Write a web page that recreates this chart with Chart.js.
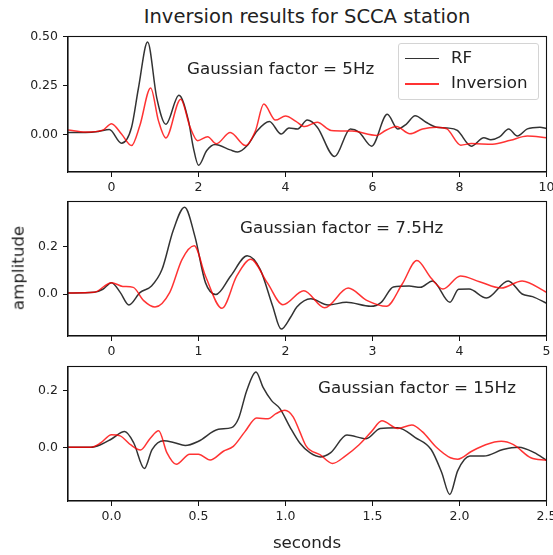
<!DOCTYPE html>
<html>
<head>
<meta charset="utf-8">
<script src="https://cdn.jsdelivr.net/npm/chart.js@4"></script>
<style>
  html, body { margin: 0; padding: 0; background: #fff; overflow: hidden; }
  body { width: 553px; height: 555px; position: relative; font-family: 'DejaVu Sans', sans-serif; color: #222; }
  canvas { position: absolute; left: 0; }
  .txt { position: absolute; white-space: nowrap; line-height: 1; }
</style>
</head>
<body>

<div class="txt" style="left:107px; top:6.8px; width:400px; text-align:center; font-size:19.5px;">Inversion results for SCCA station</div>

<canvas id="c5" width="590" height="173" style="top:24px"></canvas>
<canvas id="c75" width="590" height="172" style="top:189px"></canvas>
<canvas id="c15" width="590" height="172" style="top:354px"></canvas>

<div class="txt" style="left:187px; top:59.9px; font-size:16.7px;">Gaussian factor = 5Hz</div>
<div class="txt" style="left:240px; top:219.2px; font-size:16.7px;">Gaussian factor = 7.5Hz</div>
<div class="txt" style="left:318px; top:378.6px; font-size:16.7px;">Gaussian factor = 15Hz</div>

<!-- legenda do painel de cima -->
<div style="position:absolute; left:398px; top:43px; width:139px; height:55px; border:1px solid #d4d4d4; border-radius:3px; background:rgba(255,255,255,0.8);"></div>
<div style="position:absolute; left:405px; top:57.5px; width:34px; height:1.5px; background:rgba(0,0,0,0.8);"></div>
<div style="position:absolute; left:405px; top:83.2px; width:34px; height:1.5px; background:rgba(255,0,0,0.8);"></div>
<div class="txt" style="left:451px; top:49.2px; font-size:16.7px;">RF</div>
<div class="txt" style="left:451px; top:74.2px; font-size:16.7px;">Inversion</div>

<div class="txt" style="left:17.5px; top:268px; font-size:16.7px; transform:translate(-50%,-50%) rotate(-90deg);">amplitude</div>
<div class="txt" style="left:107px; top:534.4px; width:400px; text-align:center; font-size:16.7px;">seconds</div>

<script>
// ---- dados (tempo em s, amplitude) ----

// Gaussian factor = 5Hz
const rf5 = [[-1,0.01],[-0.6,0.01],[-0.3,0.015],[-0.05,0.025],[0.23,-0.045],[0.46,0.035],[0.62,0.237],[0.83,0.472],[1.04,0.187],[1.25,0.052],[1.55,0.2],[1.77,0.069],[1.88,-0.066],[2.0,-0.158],[2.19,-0.082],[2.38,-0.052],[2.73,-0.079],[2.9,-0.09],[3.12,-0.057],[3.35,0.019],[3.63,0.066],[3.9,0.002],[4.08,0.033],[4.28,0.028],[4.5,0.073],[4.73,0.037],[5.13,-0.113],[5.49,0.028],[5.69,0.012],[5.98,-0.06],[6.34,0.103],[6.58,0.028],[6.78,0.053],[6.98,0.095],[7.23,0.062],[7.47,0.037],[7.71,0.033],[7.95,0.02],[8.27,-0.06],[8.56,-0.017],[8.72,-0.027],[8.92,-0.013],[9.13,0.028],[9.33,-0.008],[9.56,0.028],[9.85,0.037],[10,0.03]];
const inv5 = [[-1,0.023],[-0.6,0.012],[-0.2,0.022],[0,0.055],[0.23,0.002],[0.46,-0.057],[0.65,0.044],[0.9,0.237],[1.08,0.069],[1.25,-0.018],[1.59,0.18],[1.81,0.035],[1.98,-0.032],[2.21,-0.012],[2.41,-0.048],[2.73,0.01],[3.08,-0.057],[3.31,0.019],[3.5,0.155],[3.77,0.073],[4.0,0.094],[4.24,0.067],[4.44,0.04],[4.73,0.062],[5.05,0.02],[5.53,0.017],[6.1,-0.005],[6.3,0.02],[6.55,0.04],[6.86,0.003],[7.15,0.028],[7.47,0.037],[7.71,0.028],[8.03,-0.055],[8.27,-0.047],[8.76,-0.05],[9.17,-0.03],[9.56,-0.008],[10,-0.017]];

// Gaussian factor = 7.5Hz
const rf75 = [[-0.5,0.004],[-0.2,0.007],[-0.1,0.02],[0,0.048],[0.1,0.007],[0.2,-0.046],[0.33,0.007],[0.46,0.034],[0.58,0.103],[0.71,0.269],[0.84,0.366],[0.96,0.241],[1.08,0.048],[1.2,-0.002],[1.37,0.076],[1.56,0.161],[1.71,0.103],[1.85,-0.048],[1.95,-0.148],[2.06,-0.097],[2.13,-0.055],[2.29,-0.02],[2.49,-0.046],[2.7,-0.035],[2.98,-0.052],[3.1,-0.035],[3.24,0.03],[3.42,0.034],[3.55,0.028],[3.69,0.055],[3.89,-0.035],[3.99,0.02],[4.11,0.021],[4.31,-0.017],[4.56,0.055],[4.72,0.0],[4.84,-0.011],[5,-0.039]];
const inv75 = [[-0.5,0.004],[-0.2,0.007],[0,0.048],[0.13,0.032],[0.25,0.028],[0.37,-0.028],[0.5,-0.055],[0.67,0.007],[0.81,0.145],[0.95,0.203],[1.08,0.076],[1.27,-0.06],[1.44,0.076],[1.6,0.147],[1.79,0.048],[1.97,-0.045],[2.21,0.014],[2.45,-0.058],[2.72,0.025],[2.94,-0.028],[3.16,-0.052],[3.34,0.041],[3.51,0.141],[3.67,0.069],[3.81,0.021],[4.01,0.076],[4.23,0.052],[4.48,0.025],[4.72,0.055],[5,0.007]];

// Gaussian factor = 15Hz
const rf15 = [[-0.25,0],[-0.12,0],[-0.063,0.009],[0,0.029],[0.076,0.055],[0.128,0.015],[0.189,-0.075],[0.233,-0.008],[0.3,0.023],[0.357,0.017],[0.424,0.006],[0.5,0.021],[0.614,0.063],[0.69,0.069],[0.73,0.101],[0.777,0.199],[0.83,0.265],[0.872,0.21],[0.92,0.164],[0.968,0.136],[1.025,0.072],[1.082,0.015],[1.14,-0.019],[1.2,-0.034],[1.26,-0.019],[1.353,0.043],[1.464,0.03],[1.544,0.066],[1.645,0.069],[1.746,0.034],[1.837,-0.008],[1.897,-0.088],[1.944,-0.166],[1.99,-0.082],[2.06,-0.031],[2.14,-0.031],[2.25,-0.008],[2.34,0],[2.43,-0.019],[2.5,-0.046]];
const inv15 = [[-0.25,0],[-0.12,0],[-0.063,0.015],[0,0.044],[0.05,0.04],[0.109,0.009],[0.166,-0.01],[0.223,0.032],[0.271,0.058],[0.319,-0.02],[0.372,-0.06],[0.45,-0.025],[0.5,-0.025],[0.567,-0.045],[0.643,-0.014],[0.7,0.003],[0.767,0.055],[0.834,0.103],[0.9,0.1],[0.945,0.118],[0.996,0.13],[1.044,0.107],[1.082,0.055],[1.12,0.003],[1.2,-0.027],[1.27,-0.057],[1.343,-0.031],[1.423,0.009],[1.494,0.055],[1.554,0.093],[1.645,0.066],[1.726,0.078],[1.786,0.055],[1.867,0],[1.948,-0.037],[1.99,-0.042],[2.07,-0.014],[2.15,0.009],[2.24,0.021],[2.31,0.009],[2.41,-0.037],[2.5,-0.046]];

// ticks e limites de cada painel
const xTicks5 = [0, 2, 4, 6, 8, 10];
const xTicks75 = [0, 1, 2, 3, 4, 5];
const xTicks15 = [0, 0.5, 1, 1.5, 2, 2.5];
const yTicks5 = [0, 0.25, 0.5];
const yTicks75 = [0, 0.2];
const yTicks15 = [0, 0.2];

const xLim5 = [-1, 10], yLim5 = [-0.192, 0.5];
const xLim75 = [-0.5, 5], yLim75 = [-0.177, 0.39];
const xLim15 = [-0.25, 2.5], yLim15 = [-0.189, 0.284];

// moldura em volta da area do grafico
const molduraPlugin = {
    id: 'moldura',
    afterDraw(chart) {
        const a = chart.chartArea;
        const ctx = chart.ctx;
        ctx.save();
        ctx.strokeStyle = '#111';
        ctx.lineWidth = 1.1;
        ctx.strokeRect(a.left, a.top, a.right - a.left, a.bottom - a.top);
        ctx.restore();
    }
};

const fonteTicks = { family: 'DejaVu Sans', size: 12.5 };

function toPts(arr) {
    return arr.map(p => ({ x: p[0], y: p[1] }));
}

function criarGrafico(id, rf, inv, xLim, yLim, xTicks, yTicks, xFmt, yFmt) {
    const ctx = document.getElementById(id).getContext('2d');
    return new Chart(ctx, {
        type: 'line',
        data: {
            datasets: [
                { label: 'RF', data: toPts(rf), borderColor: 'rgba(0,0,0,0.8)', borderWidth: 1.5, order: 1 },
                { label: 'Inversion', data: toPts(inv), borderColor: 'rgba(255,0,0,0.8)', borderWidth: 1.5, order: 0 }
            ]
        },
        options: {
            responsive: false,
            animation: false,
            devicePixelRatio: 1,
            layout: { padding: { left: 0, top: 10, right: 590 - 546.5, bottom: 0 } },
            elements: {
                point: { radius: 0 },
                line: { cubicInterpolationMode: 'monotone', fill: false }
            },
            plugins: { legend: { display: false }, tooltip: { enabled: false } },
            scales: {
                x: {
                    type: 'linear',
                    min: xLim[0],
                    max: xLim[1],
                    afterBuildTicks: s => { s.ticks = xTicks.map(v => ({ value: v })); },
                    afterFit: s => { s.height = 25; },
                    grid: { drawOnChartArea: false, drawTicks: true, tickLength: 5, color: '#111' },
                    border: { display: true, color: '#111', width: 1.1 },
                    ticks: { font: fonteTicks, color: '#222', padding: 3, maxRotation: 0, callback: xFmt }
                },
                y: {
                    min: yLim[0],
                    max: yLim[1],
                    afterBuildTicks: s => { s.ticks = yTicks.map(v => ({ value: v })); },
                    afterFit: s => { s.width = 68; },
                    grid: { drawOnChartArea: false, drawTicks: true, tickLength: 5, color: '#111' },
                    border: { display: true, color: '#111', width: 1.1 },
                    ticks: { font: fonteTicks, color: '#222', padding: 5, callback: yFmt }
                }
            }
        },
        plugins: [molduraPlugin]
    });
}

criarGrafico('c5', rf5, inv5, xLim5, yLim5, xTicks5, yTicks5, v => String(v), v => v.toFixed(2));
criarGrafico('c75', rf75, inv75, xLim75, yLim75, xTicks75, yTicks75, v => String(v), v => v.toFixed(1));
criarGrafico('c15', rf15, inv15, xLim15, yLim15, xTicks15, yTicks15, v => v.toFixed(1), v => v.toFixed(1));
</script>
</body>
</html>
